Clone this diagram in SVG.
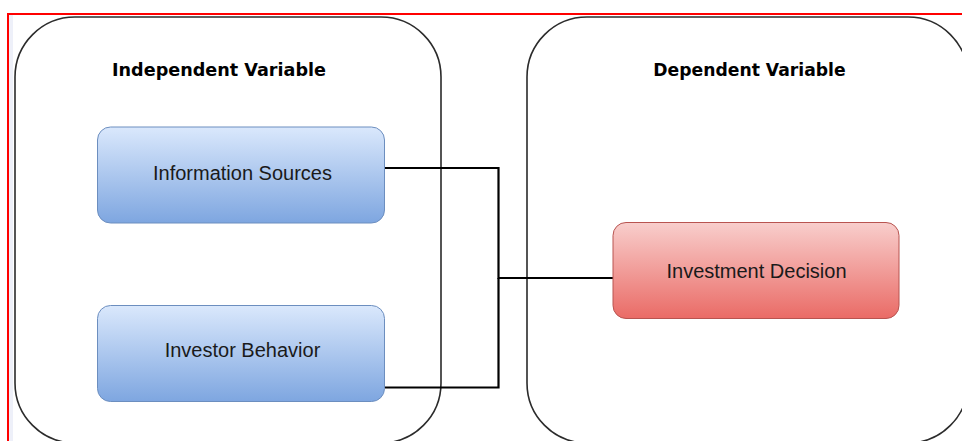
<svg xmlns="http://www.w3.org/2000/svg" width="962" height="441" viewBox="0 0 962 441">
  <defs>
    <linearGradient id="gBlue" x1="0" y1="0" x2="0" y2="1">
      <stop offset="0" stop-color="#dae8fc"/>
      <stop offset="1" stop-color="#7ea6e0"/>
    </linearGradient>
    <linearGradient id="gRed" x1="0" y1="0" x2="0" y2="1">
      <stop offset="0" stop-color="#f8cecc"/>
      <stop offset="1" stop-color="#ea6b66"/>
    </linearGradient>
  </defs>
  <style>
    .container { fill: #ffffff; stroke: #2b2b2b; stroke-width: 1.6; }
    .title { font-family: "DejaVu Sans", Verdana, sans-serif; font-weight: bold; font-size: 17.2px; fill: #000000; text-anchor: middle; }
    .blue { fill: url(#gBlue); stroke: #6c8ebf; stroke-width: 1; }
    .red { fill: url(#gRed); stroke: #b85450; stroke-width: 1; }
    .label { font-family: "Liberation Sans", Arial, sans-serif; font-size: 20px; fill: #1a1a1a; text-anchor: middle; }
    .conn { fill: none; stroke: #000000; stroke-width: 2.2; }
  </style>
  <rect x="0" y="0" width="962" height="441" fill="#ffffff"/>
  <rect x="9" y="15" width="4" height="426" fill="#eef0f9"/>
  <path d="M8 441 V14 H962" fill="none" stroke="#ff0000" stroke-width="2"/>

  <g id="independent-variable">
    <rect class="container" x="15" y="17" width="426" height="426" rx="60" ry="60"/>
    <text class="title" x="219" y="76" style="font-size:17.6px">Independent Variable</text>
  </g>
  <g id="dependent-variable">
    <rect class="container" x="527" y="17" width="441" height="426" rx="60" ry="60"/>
    <text class="title" x="749.5" y="76">Dependent Variable</text>
  </g>

  <g id="connectors">
    <path class="conn" d="M385 168 H498.5 V278 H613"/>
    <path class="conn" d="M385 387.5 H498.5 V278"/>
  </g>

  <g id="information-sources">
    <rect class="blue" x="97.5" y="127" width="287" height="96" rx="13" ry="13"/>
    <text class="label" x="242.5" y="179.5">Information Sources</text>
  </g>
  <g id="investor-behavior">
    <rect class="blue" x="97.5" y="305.5" width="287" height="96" rx="13" ry="13"/>
    <text class="label" x="242.5" y="357">Investor Behavior</text>
  </g>
  <g id="investment-decision">
    <rect class="red" x="613" y="222.5" width="286" height="96" rx="13" ry="13"/>
    <text class="label" x="756.5" y="277.5">Investment Decision</text>
  </g>
</svg>
